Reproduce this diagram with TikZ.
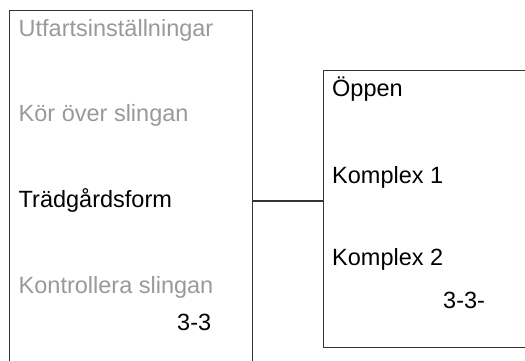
\documentclass[tikz,border=0pt]{standalone}
\usepackage{fontspec}
\setmainfont{Liberation Sans}
\begin{document}
\begin{tikzpicture}[x=1pt,y=-1pt,
  panel/.style={draw=black!80,line width=1.2pt,rectangle,inner sep=0pt,anchor=north west},
  label/.style={inner sep=0pt,anchor=base west,font=\fontsize{23.5}{27}\selectfont},
  dim/.style={label,text=black!40},
  link/.style={draw=black!80,line width=1.2pt}]
\useasboundingbox (0,0) rectangle (525,360);
\clip (0,0) rectangle (525,360);
\node[panel,minimum width=243pt,minimum height=360pt] (L) at (9,9.5) {};
\node[panel,minimum width=220pt,minimum height=277.5pt] (R) at (322.5,69.5) {};
\node[dim] (l1) at (18.5,36) {Utfartsinställningar};
\node[dim] (l2) at (18.5,121.5) {Kör över slingan};
\node[label] (l3) at (18.5,207) {Trädgårdsform};
\node[dim] (l4) at (18.5,293) {Kontrollera slingan};
\node[label] (l5) at (177,330) {3-3};
\node[label] (r1) at (332,96) {Öppen};
\node[label] (r2) at (332,183) {Komplex 1};
\node[label] (r3) at (332,265.5) {Komplex 2};
\node[label] (r4) at (443,308) {3-3-};
\coordinate (cy) at (0,201);
\draw[link] (cy -| L.east) -- (cy -| R.west);
\end{tikzpicture}
\end{document}
